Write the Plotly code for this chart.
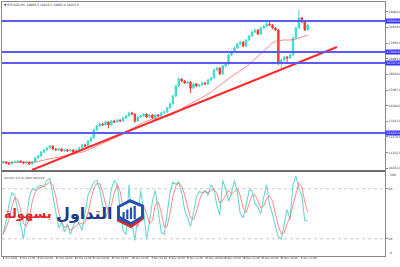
import plotly.graph_objects as go
import pandas as pd

W, H = 400, 267

# ---------------- data ----------------
bars = list(range(105))
opens = [10580, 10640, 10580, 10520, 10640, 10660, 10700, 10640, 10580, 10640,
         10520, 10640, 10890, 11010, 11250, 11380, 11500, 11620, 11440, 11380,
         11440, 11320, 11380, 11320, 11380, 11250, 11380, 11500, 11690, 11620,
         11930, 12120, 12610, 12850, 12980, 12920, 13100, 12920, 13160, 13100,
         13220, 13160, 13350, 13470, 13650, 13590, 13160, 13410, 13470, 13590,
         13410, 13530, 13350, 13530, 13470, 13650, 13710, 13960, 14210, 14700,
         15310, 15740, 15620, 15500, 15560, 15190, 15440, 15310, 15380, 15500,
         15440, 15680, 15810, 16300, 16420, 16050, 16540, 16670, 17220, 17400,
         17650, 17900, 18020, 17770, 18140, 18390, 18630, 18760, 18510, 18880,
         19000, 19130, 19070, 18880, 18760, 16790, 16910, 17100, 17040, 17220,
         18270, 18880, 19500, 19250, 18760]
closes = [10640, 10580, 10520, 10640, 10660, 10700, 10640, 10580, 10640, 10520,
          10640, 10890, 11010, 11250, 11380, 11500, 11620, 11440, 11380, 11440,
          11320, 11380, 11320, 11380, 11250, 11380, 11500, 11690, 11620, 11930,
          12120, 12610, 12850, 12980, 12920, 13100, 12920, 13160, 13100, 13220,
          13160, 13350, 13470, 13650, 13590, 13160, 13410, 13470, 13590, 13410,
          13530, 13350, 13530, 13470, 13650, 13710, 13960, 14210, 14700, 15310,
          15740, 15620, 15500, 15560, 15190, 15440, 15310, 15380, 15500, 15440,
          15680, 15810, 16300, 16420, 16050, 16540, 16670, 17220, 17400, 17650,
          17900, 18020, 17770, 18140, 18390, 18630, 18760, 18510, 18880, 19000,
          19130, 19070, 18880, 18760, 16790, 16910, 17100, 17040, 17220, 18270,
          18880, 19500, 19250, 18760, 19070]
highs = [10720, 10700, 10630, 10700, 10730, 10760, 10740, 10680, 10700, 10680,
         10700, 10950, 11080, 11320, 11440, 11570, 11700, 11660, 11500, 11500,
         11480, 11440, 11420, 11450, 11420, 11430, 11560, 11750, 11760, 11990,
         12200, 12700, 12930, 13060, 13050, 13170, 13150, 13230, 13220, 13290,
         13270, 13420, 13540, 13730, 13720, 13640, 13480, 13540, 13660, 13630,
         13600, 13580, 13600, 13590, 13720, 13790, 14040, 14290, 14790, 15400,
         15830, 15790, 15680, 15640, 15610, 15510, 15490, 15450, 15570, 15560,
         15750, 15880, 16380, 16500, 16470, 16610, 16740, 17300, 17480, 17730,
         17980, 18100, 18080, 18210, 18460, 18710, 18840, 18810, 18950, 19080,
         19250, 19300, 19120, 18930, 18800, 16990, 17180, 17160, 17300, 18350,
         18960, 19990, 19560, 19300, 19140]
lows = [10540, 10520, 10450, 10480, 10590, 10620, 10590, 10510, 10540, 10460,
        10480, 10600, 10850, 10960, 11200, 11330, 11450, 11380, 11320, 11330,
        11260, 11270, 11250, 11280, 11190, 11200, 11330, 11450, 11560, 11580,
        11880, 12080, 12560, 12800, 12850, 12870, 12700, 12880, 13030, 13050,
        13090, 13110, 13300, 13420, 13520, 13040, 13100, 13360, 13420, 13340,
        13360, 13280, 13300, 13400, 13420, 13600, 13660, 13900, 14160, 14650,
        15260, 15540, 15430, 15440, 14880, 15130, 15240, 15250, 15330, 15370,
        15390, 15630, 15760, 16250, 15980, 16000, 16480, 16620, 17160, 17350,
        17600, 17850, 17690, 17720, 18090, 18340, 18580, 18440, 18460, 18830,
        18950, 19000, 18810, 18690, 16600, 16300, 16850, 16700, 16980, 17170,
        18220, 18830, 19180, 18690, 18700]
stoch_main = [25, 40, 60, 75, 72, 55, 40, 20, 45, 70,
              80, 78, 83, 84, 82, 90, 92, 72, 50, 33,
              40, 28, 38, 25, 35, 45, 38, 30, 50, 72,
              80, 88, 90, 80, 60, 45, 55, 80, 90, 85,
              55, 30, 25, 85, 40, 18, 45, 78, 55, 20,
              40, 65, 78, 50, 28, 25, 50, 75, 88, 85,
              88, 75, 55, 45, 35, 50, 70, 77, 75, 78,
              72, 85, 80, 60, 48, 90, 80, 65, 75, 90,
              75, 50, 45, 60, 78, 78, 62, 58, 50, 70,
              85, 60, 50, 35, 22, 20, 40, 55, 43, 85,
              95, 80, 72, 42, 41.49]

level_prices = [19310, 17404, 16727, 12422]
trend_x = [9.9, 114]
trend_y = [10147, 17712]
price_ticks = [19882, 18919, 17956, 16993, 16030, 15067, 14104, 13141, 12178, 11215, 10252]
stoch_levels = [80, 20]
date_pos = [0, 6, 12, 18.4, 24.9, 31, 37.5, 44.4, 50.9, 57, 63.1, 69.6, 75.8, 82.3, 88.7, 95.2, 102]
date_labels = ["1 Oct 2020", "6 Oct 12:00", "9 Oct 04:00", "13 Oct 20:00", "16 Oct 12:00",
               "21 Oct 04:00", "23 Oct 20:00", "28 Oct 12:00", "2 Nov 04:00", "4 Nov 20:00",
               "9 Nov 12:00", "12 Nov 04:00", "16 Nov 20:00", "19 Nov 12:00", "24 Nov 04:00",
               "26 Nov 20:00", "1 Dec 12:00"]

ma = pd.Series(closes).rolling(20, min_periods=1).mean()
stoch_signal = pd.Series(stoch_main).rolling(3, min_periods=1).mean()

# ---------------- layout helpers ----------------
def px(x):
    return x / W

def py(y):
    return 1 - y / H

X0, X1 = 2, 385
MAIN_T, MAIN_B = 2, 170
ST_T, ST_B = 172, 255.5

BULL = "#3fdccb"
BEAR = "#ff3838"
BLUE = "#5a5aff"
AX = "#8a8a8a"
FONT = "DejaVu Sans"

fig = go.Figure()

fig.add_trace(go.Candlestick(
    x=bars, open=opens, high=highs, low=lows, close=closes,
    increasing=dict(line=dict(color=BULL, width=1), fillcolor=BULL),
    decreasing=dict(line=dict(color=BEAR, width=1), fillcolor=BEAR),
    whiskerwidth=0, xaxis="x", yaxis="y", showlegend=False, hoverinfo="skip"))

fig.add_trace(go.Scatter(x=bars, y=ma, mode="lines",
                         line=dict(color="rgba(245,90,90,0.7)", width=1),
                         xaxis="x", yaxis="y", showlegend=False, hoverinfo="skip"))

fig.add_trace(go.Scatter(x=trend_x, y=trend_y, mode="lines",
                         line=dict(color="#ff2a2a", width=2),
                         xaxis="x", yaxis="y", showlegend=False, hoverinfo="skip"))

fig.add_trace(go.Scatter(x=bars, y=stoch_main, mode="lines",
                         line=dict(color="#6fd6ce", width=1.1),
                         xaxis="x2", yaxis="y2", showlegend=False, hoverinfo="skip"))
fig.add_trace(go.Scatter(x=bars, y=stoch_signal, mode="lines",
                         line=dict(color="rgba(250,100,100,0.75)", width=1),
                         xaxis="x2", yaxis="y2", showlegend=False, hoverinfo="skip"))

shapes = []
for lv in level_prices:
    shapes.append(dict(type="line", xref="paper", yref="y", x0=px(X0), x1=px(X1),
                       y0=lv, y1=lv, line=dict(color=BLUE, width=2), layer="above"))
for lv in stoch_levels:
    shapes.append(dict(type="line", xref="paper", yref="y2", x0=px(X0), x1=px(X1),
                       y0=lv, y1=lv, line=dict(color="#c8c8c8", width=1, dash="dot"), layer="below"))
# pane divider
shapes.append(dict(type="line", xref="paper", yref="paper", x0=px(X0), x1=px(X1),
                   y0=py(171), y1=py(171), line=dict(color="#6e6e6e", width=2)))

# ---- watermark logo (decoration) ----
def path(pts):
    s = "M " + " L ".join(f"{px(a):.4f},{py(b):.4f}" for a, b in pts) + " Z"
    return s

LOGO_BLUE = "#2452b3"
LOGO_RED = "#e3262b"
shapes.append(dict(type="path", xref="paper", yref="paper", layer="above",
                   path=path([(117, 206), (130, 199), (144, 205), (144, 219), (131, 228), (117, 221)]),
                   fillcolor=LOGO_BLUE, line=dict(width=0)))
shapes.append(dict(type="path", xref="paper", yref="paper", layer="above",
                   path=path([(120, 207.5), (130, 202.5), (141, 207), (141, 216), (131, 222), (120, 216)]),
                   fillcolor="white", line=dict(width=0)))
for (bx, top) in [(122.5, 212), (126.2, 209.5), (129.9, 207.5), (133.6, 206)]:
    shapes.append(dict(type="rect", xref="paper", yref="paper", layer="above",
                       x0=px(bx), x1=px(bx + 2.2), y0=py(219), y1=py(top),
                       fillcolor=LOGO_BLUE, line=dict(width=0)))
shapes.append(dict(type="path", xref="paper", yref="paper", layer="above",
                   path=path([(117, 219), (131, 225), (144, 217), (144, 219), (131, 228), (117, 221)]),
                   fillcolor=LOGO_RED, line=dict(width=0)))

annotations = []
for lv in level_prices:
    annotations.append(dict(xref="paper", yref="y", x=px(X1), y=lv, xanchor="left", yanchor="middle",
                            text=f"{lv:.1f}", showarrow=False, bgcolor="#3434ff",
                            font=dict(family=FONT, size=3.2, color="white"),
                            width=14, height=4.2, borderpad=0, align="center"))
annotations.append(dict(xref="paper", yref="paper", x=px(2), y=py(5), xanchor="left", yanchor="middle",
                        text="▼ BTCUSD,H4  19866.4 19210.3 18863.4 19252.0", showarrow=False,
                        font=dict(family=FONT, size=3, color="#333333")))
annotations.append(dict(xref="paper", yref="paper", x=px(2), y=py(178), xanchor="left", yanchor="middle",
                        text="Stoch(5,3,3) 41.4859 40.6253", showarrow=False,
                        font=dict(family=FONT, size=2.7, color="#333333")))
for val, ypix in [("100", 175), ("0", 253)]:
    annotations.append(dict(xref="paper", yref="paper", x=px(X1 + 3), y=py(ypix), xanchor="left",
                            yanchor="middle", text=val, showarrow=False,
                            font=dict(family=FONT, size=3, color="#333333")))
annotations.append(dict(xref="paper", yref="paper", x=px(54), y=py(213), xanchor="right", yanchor="middle",
                        text="<b>بسهولة</b>", showarrow=False,
                        font=dict(family=FONT, size=13, color=LOGO_RED)))
annotations.append(dict(xref="paper", yref="paper", x=px(115), y=py(213), xanchor="right", yanchor="middle",
                        text="<b>التداول</b>", showarrow=False,
                        font=dict(family=FONT, size=16, color="#1d3a8f")))

common_axis = dict(showgrid=False, zeroline=False, showline=True, mirror=True,
                   linecolor=AX, linewidth=1)

fig.update_layout(
    width=W, height=H, margin=dict(l=0, r=0, t=0, b=0),
    paper_bgcolor="white", plot_bgcolor="white",
    showlegend=False,
    xaxis=dict(domain=[px(X0), px(X1)], range=[-0.34, 130.4], anchor="y",
               showticklabels=False, rangeslider=dict(visible=False), **common_axis),
    xaxis2=dict(domain=[px(X0), px(X1)], range=[-0.34, 130.4], anchor="y2", matches="x",
                tickvals=date_pos, ticktext=date_labels, ticks="outside", ticklen=1,
                tickcolor=AX, ticklabelshift=7, ticklabelstandoff=-2, tickangle=0,
                tickfont=dict(family=FONT, size=2.6, color="#333333"), **common_axis),
    yaxis=dict(domain=[py(MAIN_B), py(MAIN_T)], range=[10147, 20479], anchor="x", side="right",
               tickvals=price_ticks, ticktext=[f"{v:.1f}" for v in price_ticks],
               ticks="outside", ticklen=2, tickcolor=AX,
               tickfont=dict(family=FONT, size=3, color="#333333"), **common_axis),
    yaxis2=dict(domain=[py(ST_B), py(ST_T)], range=[0, 100], anchor="x2", side="right",
                tickvals=stoch_levels, ticktext=[str(v) for v in stoch_levels],
                ticks="outside", ticklen=2, tickcolor=AX,
                tickfont=dict(family=FONT, size=3, color="#333333"), **common_axis),
    shapes=shapes, annotations=annotations,
)

fig.write_html("out.html")
